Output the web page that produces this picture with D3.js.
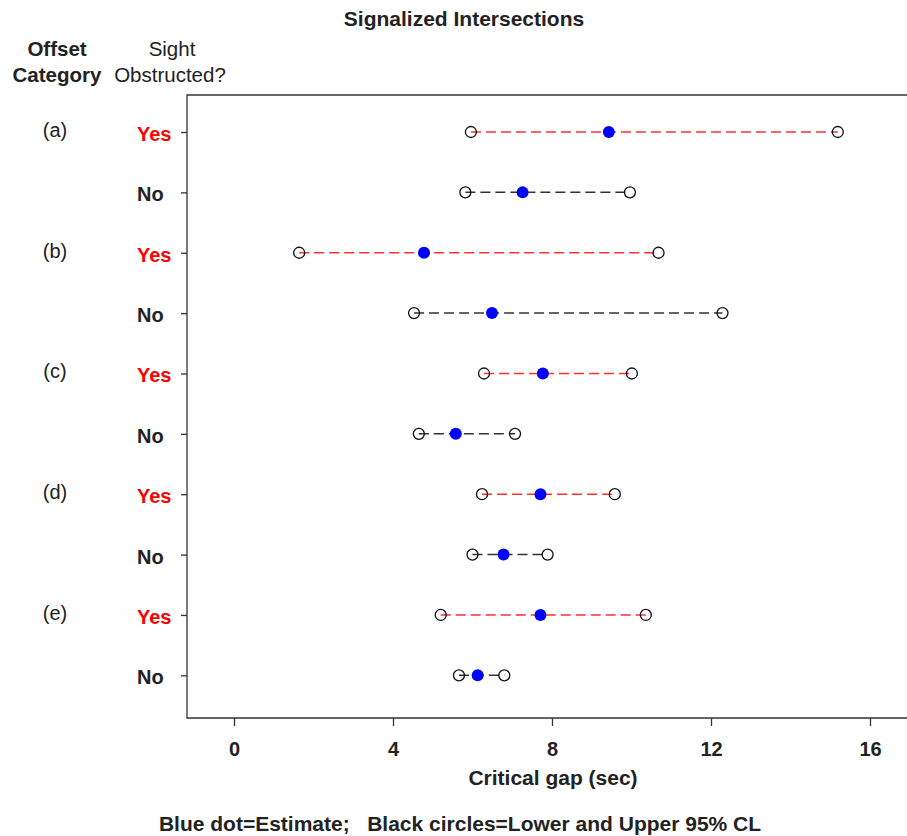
<!DOCTYPE html>
<html><head><meta charset="utf-8">
<script src="https://cdn.jsdelivr.net/npm/d3@7"></script>
<style>body{margin:0;background:#fff}svg{display:block}text{font-family:"Liberation Sans",Arial,sans-serif}</style>
</head><body>
<script>
const categories = ["(a)","(a)","(b)","(b)","(c)","(c)","(d)","(d)","(e)","(e)"];
const obstructed = ["Yes","No","Yes","No","Yes","No","Yes","No","Yes","No"];
const estimate = [9.43, 7.26, 4.78, 6.49, 7.77, 5.58, 7.71, 6.78, 7.71, 6.13];
const lower    = [5.96, 5.82, 1.64, 4.53, 6.29, 4.65, 6.24, 6.00, 5.20, 5.66];
const upper    = [15.19, 9.96, 10.68, 12.29, 10.01, 7.07, 9.58, 7.89, 10.36, 6.80];
const xTicks = [0, 4, 8, 12, 16];

(function () {
const W = 907, H = 836;
const svg = d3.select("body").append("svg").attr("width", W).attr("height", H);

const pL = 187, pR = 907, pT = 95, pB = 718;
const x = d3.scaleLinear().domain([0, 16]).range([234, 870]);
const y = d3.scaleLinear().domain([-0.613, 9.707]).range([pT, pB]);

const rows = categories.map((c, i) => ({c, o: obstructed[i], e: estimate[i], lo: lower[i], hi: upper[i], i}));

svg.append("path")
  .attr("d", `M${pR},${pT}H${pL}V${pB}H${pR}`)
  .attr("fill", "none").attr("stroke", "#333").attr("stroke-width", 1.3);

const xa = svg.append("g").attr("transform", `translate(0,${pB})`)
  .call(d3.axisBottom(x).tickValues(xTicks).tickSize(8).tickPadding(16).tickFormat(d3.format("d")));
xa.select(".domain").remove();
xa.selectAll(".tick line").attr("stroke", "#333").attr("stroke-width", 1.3);
xa.selectAll(".tick text").attr("font-size", 20).attr("font-weight", "bold").attr("fill", "#222")
  .attr("font-family", "Liberation Sans, Arial, sans-serif");

const ya = svg.append("g").attr("transform", `translate(${pL},0)`)
  .call(d3.axisLeft(y).tickValues(rows.map(r => r.i)).tickSize(6).tickFormat(""));
ya.select(".domain").remove();
ya.selectAll(".tick line").attr("stroke", "#333").attr("stroke-width", 1.3);

svg.append("g").selectAll("text").data(rows).join("text")
  .attr("x", 137).attr("y", d => y(d.i) + 9)
  .attr("font-size", 20).attr("font-weight", "bold")
  .attr("fill", d => d.o === "Yes" ? "#ff0000" : "#222")
  .text(d => d.o);
svg.append("g").selectAll("text").data(rows.filter(r => r.o === "Yes")).join("text")
  .attr("x", 55).attr("y", d => y(d.i) + 5).attr("text-anchor", "middle")
  .attr("font-size", 20).attr("fill", "#222")
  .text(d => d.c);

svg.append("g").selectAll("line").data(rows).join("line")
  .attr("x1", d => x(d.lo)).attr("x2", d => x(d.hi))
  .attr("y1", d => y(d.i)).attr("y2", d => y(d.i))
  .attr("stroke", d => d.o === "Yes" ? "#ff3030" : "#333")
  .attr("stroke-width", 1.5).attr("stroke-dasharray", "10,5");

svg.append("g").selectAll("circle").data(rows.flatMap(d => [{v: d.lo, i: d.i}, {v: d.hi, i: d.i}])).join("circle")
  .attr("cx", d => x(d.v)).attr("cy", d => y(d.i)).attr("r", 5.5)
  .attr("fill", "none").attr("stroke", "#111").attr("stroke-width", 1.3);

svg.append("g").selectAll("circle").data(rows).join("circle")
  .attr("cx", d => x(d.e)).attr("cy", d => y(d.i)).attr("r", 6)
  .attr("fill", "#0000ff");

const t = (txt, xx, yy, size, bold, anchor = "middle") => svg.append("text")
  .attr("x", xx).attr("y", yy).attr("font-size", size).attr("font-weight", bold ? "bold" : "normal")
  .attr("text-anchor", anchor).attr("fill", "#222").text(txt);
t("Signalized Intersections", 464, 26, 21, true);
t("Offset", 57, 56, 20.5, true);
t("Category", 57, 82, 20.5, true);
t("Sight", 172, 56, 20.5, false);
t("Obstructed?", 170, 82, 20.5, false);
t("Critical gap (sec)", 553, 785, 21, true);
t("Blue dot=Estimate;   Black circles=Lower and Upper 95% CL", 460, 831, 21, true).style("white-space", "pre");
})();
</script>
</body></html>
